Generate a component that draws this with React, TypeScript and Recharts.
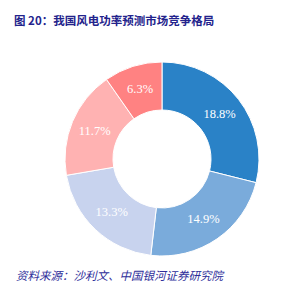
import { PieChart, Pie, Cell } from 'recharts';

const companies = ['A', 'B', 'C', 'D', 'E'];
const shares = [18.8, 14.9, 13.3, 11.7, 6.3];
const colors = ['#2A82C7', '#7AABDB', '#C8D3EE', '#FFB2B2', '#FF8282'];

const data = companies.map((name, i) => ({ name, value: shares[i] }));

const RADIAN = Math.PI / 180;

const renderLabel = (props: any) => {
  const { cx, cy, midAngle, innerRadius, outerRadius, value } = props;
  const r = (innerRadius + outerRadius) / 2;
  const x = cx + r * Math.cos(-midAngle * RADIAN);
  const y = cy + r * Math.sin(-midAngle * RADIAN);
  return (
    <text
      x={x}
      y={y}
      fill="#fff"
      textAnchor="middle"
      dominantBaseline="central"
      fontFamily="'Liberation Serif', serif"
      fontSize={12.5}
    >
      {`${value.toFixed(1)}%`}
    </text>
  );
};

const App = () => {
  return (
    <div style={{ position: 'absolute', left: 0, top: 0, width: 294, height: 284, background: '#fff', overflow: 'hidden' }}>
      <div
        style={{
          position: 'absolute',
          left: 14,
          top: 12,
          fontFamily: "'Noto Sans CJK SC', sans-serif",
          fontWeight: 'bold',
          fontSize: 11.5,
          lineHeight: '16px',
          color: '#23238C',
          whiteSpace: 'nowrap',
        }}
      >
        图 20：我国风电功率预测市场竞争格局
      </div>
      <div style={{ position: 'absolute', left: 0, top: 0 }}>
        <PieChart width={294} height={284}>
          <Pie
            data={data}
            dataKey="value"
            nameKey="name"
            cx={157}
            cy={154}
            innerRadius={49}
            outerRadius={97}
            startAngle={90}
            endAngle={-270}
            stroke="#fff"
            strokeWidth={1}
            labelLine={false}
            label={renderLabel}
            isAnimationActive={false}
          >
            {data.map((entry, index) => (
              <Cell key={`cell-${index}`} fill={colors[index]} />
            ))}
          </Pie>
        </PieChart>
      </div>
      <div
        style={{
          position: 'absolute',
          left: 16,
          top: 268,
          fontFamily: "'Noto Sans CJK SC', sans-serif",
          fontStyle: 'italic',
          fontSize: 11.5,
          lineHeight: '14px',
          color: '#2E2E9A',
          whiteSpace: 'nowrap',
        }}
      >
        资料来源：沙利文、中国银河证券研究院
      </div>
    </div>
  );
};

export default App;
